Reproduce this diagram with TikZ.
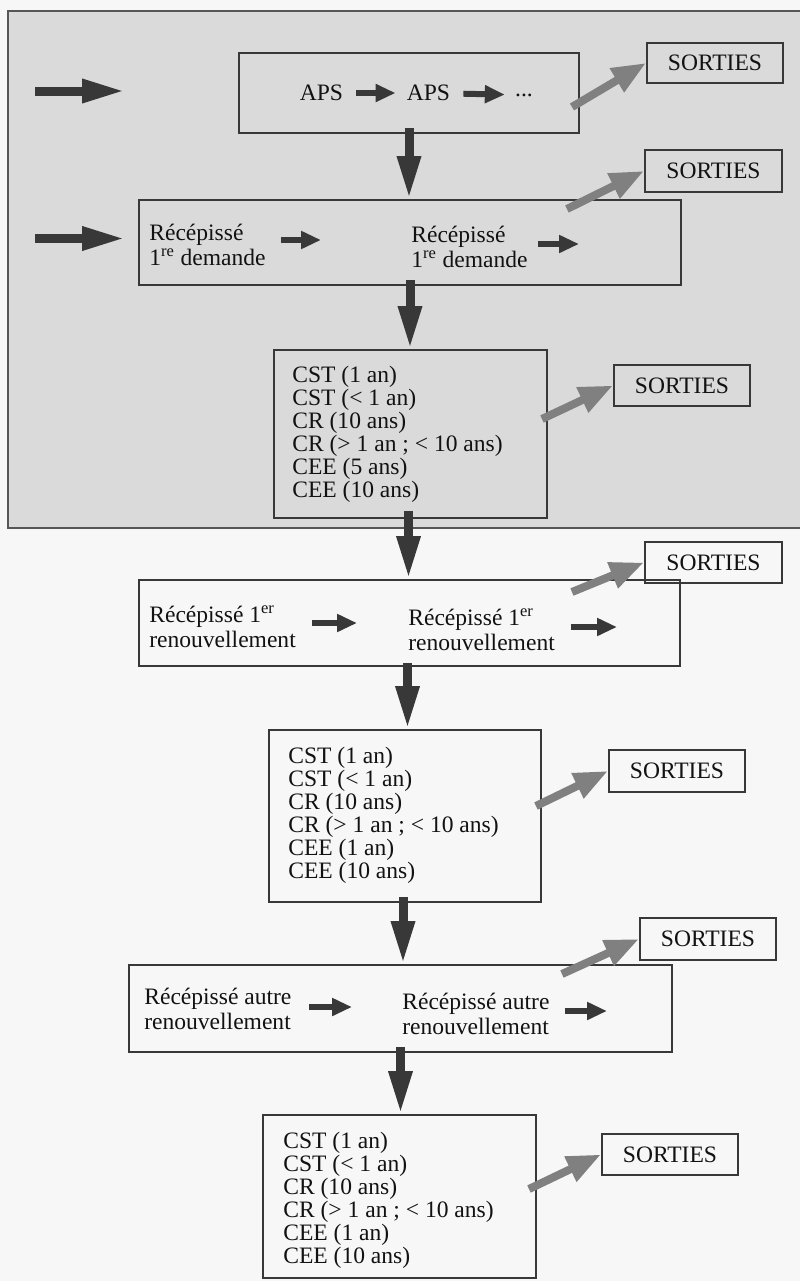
\documentclass[tikz,border=0pt]{standalone}
\usepackage{fontspec}
\setmainfont{Liberation Serif}
\usetikzlibrary{arrows.meta,calc}
\definecolor{pagebg}{HTML}{F7F7F7}
\definecolor{shade}{HTML}{DADADA}
\definecolor{ink}{HTML}{383838}
\definecolor{greyarrow}{HTML}{808080}
\definecolor{txtcol}{HTML}{121212}
\begin{document}
\begin{tikzpicture}[x=0.02cm,y=-0.02cm,
  box/.style={draw=ink,line width=0.04cm,inner sep=0pt,rectangle},
  sbox/.style={box,minimum width=2.72cm,minimum height=0.82cm,font=\fontsize{13.4}{13.1}\selectfont,text=txtcol},
  txt/.style={inner sep=0pt,anchor=west,align=left,font=\fontsize{13.4}{13.1}\selectfont,text=txtcol},
  rtxt/.style={txt,font=\fontsize{13.4}{14.2}\selectfont},
  ctxt/.style={txt,anchor=center},
  bigarrow/.style={draw=ink,line width=0.18cm,-{Triangle[length=0.86cm,width=0.44cm]}},
  smallarrow/.style={draw=ink,line width=0.12cm,-{Triangle[length=0.4cm,width=0.34cm]}},
  outarrow/.style={draw=greyarrow,line width=0.16cm,-{Triangle[length=0.68cm,width=0.52cm]}}
]
\useasboundingbox (0,0) rectangle (800,1281);
\fill[pagebg] (0,0) rectangle (800,1281);
% shaded region of the page
\draw[fill=shade,draw=ink!85,line width=0.045cm] (8,11) rectangle (812,528);

% ---------- boxes ----------
\node[box,minimum width=6.8cm,minimum height=1.6cm] (aps) at (409,93) {};
\node[sbox] (s1) at (715,63) {SORTIES};
\node[box,minimum width=10.84cm,minimum height=1.7cm] (rd) at (410,242.5) {};
\node[sbox,minimum width=2.74cm,minimum height=0.84cm] (s2) at (713.5,171) {SORTIES};
\node[box,minimum width=5.46cm,minimum height=3.36cm] (cst1) at (410.5,434) {};
\node[sbox] (s3) at (682,385.5) {SORTIES};
\node[box,minimum width=10.82cm,minimum height=1.72cm] (r1) at (409.5,623) {};
\node[sbox,minimum width=2.74cm] (s4) at (713.5,562.5) {SORTIES};
\node[box,minimum width=5.44cm,minimum height=3.44cm] (cst2) at (405,816) {};
\node[sbox,minimum height=0.84cm] (s5) at (677,771) {SORTIES};
\node[box,minimum width=10.86cm,minimum height=1.74cm] (ra) at (400.5,1008.5) {};
\node[sbox,minimum height=0.84cm] (s6) at (708,939) {SORTIES};
\node[box,minimum width=5.46cm,minimum height=3.26cm] (cst3) at (399.5,1196.5) {};
\node[sbox] (s7) at (670,1154.5) {SORTIES};

% ---------- texts ----------
\node[ctxt] (p1) at (321.5,93) {APS};
\node[ctxt] (p2) at (428.5,93) {APS};
\node[ctxt] (p3) at (524,95) {...};
\draw[smallarrow,shorten <=0.26cm,shorten >=0.22cm] (p1) -- (p2);
\draw[smallarrow,shorten <=0.26cm,shorten >=0.2cm] (p2) -- (p3);

\node[rtxt] (rdA) at (149,245) {Récépissé\\1\textsuperscript{re} demande};
\node[rtxt] (rdB) at (411,247) {Récépissé\\1\textsuperscript{re} demande};
\coordinate (rdA1) at (281,240); \coordinate (rdA2) at (321,240);
\coordinate (rdB1) at (538,244); \coordinate (rdB2) at (579,244);
\draw[smallarrow] (rdA1) -- (rdA2);
\draw[smallarrow] (rdB1) -- (rdB2);

\node[txt] (c1) at (292,434.5) {CST (1 an)\\CST (< 1 an)\\CR (10 ans)\\CR (> 1 an ; < 10 ans)\\CEE (5 ans)\\CEE (10 ans)};

\node[rtxt] (r1A) at (149,626.5) {Récépissé 1\textsuperscript{er}\\renouvellement};
\node[rtxt] (r1B) at (408,629.5) {Récépissé 1\textsuperscript{er}\\renouvellement};
\coordinate (r1A1) at (312,623); \coordinate (r1A2) at (357,623);
\coordinate (r1B1) at (571,627); \coordinate (r1B2) at (617,627);
\draw[smallarrow] (r1A1) -- (r1A2);
\draw[smallarrow] (r1B1) -- (r1B2);

\node[txt] (c2) at (288,815) {CST (1 an)\\CST (< 1 an)\\CR (10 ans)\\CR (> 1 an ; < 10 ans)\\CEE (1 an)\\CEE (10 ans)};

\node[rtxt] (raA) at (144,1009) {Récépissé autre\\renouvellement};
\node[rtxt] (raB) at (402,1014) {Récépissé autre\\renouvellement};
\coordinate (raA1) at (309,1007); \coordinate (raA2) at (352,1007);
\coordinate (raB1) at (565,1011); \coordinate (raB2) at (607,1011);
\draw[smallarrow] (raA1) -- (raA2);
\draw[smallarrow] (raB1) -- (raB2);

\node[txt] (c3) at (283,1200.5) {CST (1 an)\\CST (< 1 an)\\CR (10 ans)\\CR (> 1 an ; < 10 ans)\\CEE (1 an)\\CEE (10 ans)};

% ---------- entry arrows ----------
\draw[bigarrow] ($(aps.west)+(-203,-2)$) -- ($(aps.west)+(-113,-2)$);
\draw[bigarrow] ($(rd.west)+(-103,-4)$) -- ($(rd.west)+(-13,-4)$);

% ---------- vertical flow ----------
\draw[bigarrow] ($(aps.south)+(0,-6)$) -- (aps.south |- rd.north);
\draw[bigarrow] ($(rd.south)+(0,-6)$) -- (rd.south |- cst1.north);
\draw[bigarrow] ($(cst1.south)+(-2,-8)$) -- ($(cst1.south |- r1.north)+(-2,0)$);
\draw[bigarrow] ($(r1.south)+(-2,-4)$) -- ($(r1.south |- cst2.north)+(-2,0)$);
\draw[bigarrow] ($(cst2.south)+(-2,-6)$) -- ($(cst2.south |- ra.north)+(-2,0)$);
\draw[bigarrow] ($(ra.south)+(0,-6)$) -- (ra.south |- cst3.north);

% ---------- exits ----------
\draw[outarrow] ($(aps.north east)+(-8,55)$) -- (s1.west);
\draw[outarrow] ($(rd.north east)+(-115,10)$) -- (s2.west);
\draw[outarrow] ($(cst1.north east)+(-6,70)$) -- (s3.west);
\draw[outarrow] ($(r1.north east)+(-109,13)$) -- (s4.west);
\draw[outarrow] ($(cst2.north east)+(-6,77)$) -- (s5.west);
\draw[outarrow] ($(ra.north east)+(-111,10)$) -- (s6.west);
\draw[outarrow] ($(cst3.north east)+(-8,75)$) -- (s7.west);
\end{tikzpicture}
\end{document}
